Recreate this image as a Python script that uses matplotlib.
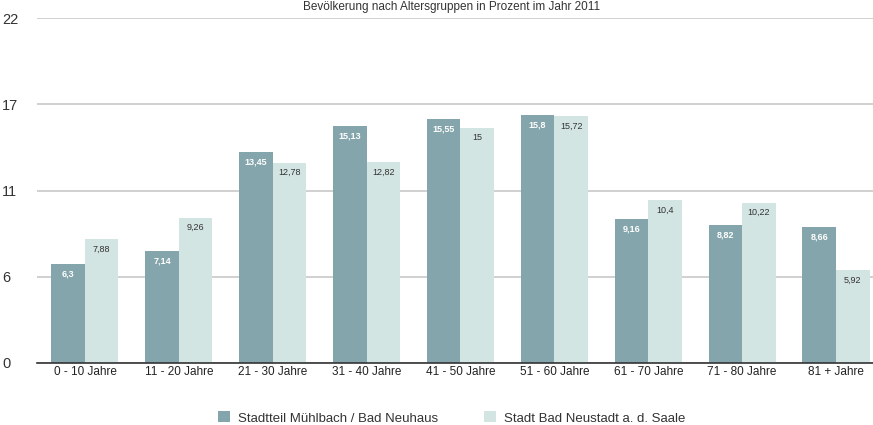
import matplotlib
matplotlib.use("Agg")
import matplotlib.pyplot as plt
import numpy as np

categories = ["0 - 10 Jahre", "11 - 20 Jahre", "21 - 30 Jahre", "31 - 40 Jahre",
              "41 - 50 Jahre", "51 - 60 Jahre", "61 - 70 Jahre", "71 - 80 Jahre",
              "81 + Jahre"]
muehlbach = [6.3, 7.14, 13.45, 15.13, 15.55, 15.8, 9.16, 8.82, 8.66]
neustadt = [7.88, 9.26, 12.78, 12.82, 15.0, 15.72, 10.4, 10.22, 5.92]
series_names = ["Stadtteil Mühlbach / Bad Neuhaus", "Stadt Bad Neustadt a. d. Saale"]
y_ticks = [0, 5.5, 11, 16.5, 22]
y_tick_labels = ["0", "6", "11", "17", "22"]
title = "Bevölkerung nach Altersgruppen in Prozent im Jahr 2011"

plt.rcParams["font.family"] = ["Liberation Sans", "DejaVu Sans"]

dark = "#84a5ab"
light = "#d3e5e3"

fig = plt.figure(figsize=(8.73, 4.25), dpi=100)
ax = fig.add_axes([37 / 873, 1 - 363 / 425, 836 / 873, 345 / 425])

x = np.arange(len(categories))
w = 0.357
b1 = ax.bar(x - w / 2, muehlbach, w, color=dark, label=series_names[0], zorder=3)
b2 = ax.bar(x + w / 2, neustadt, w, color=light, label=series_names[1], zorder=3)

def fmt(v):
    s = f"{v:.2f}".rstrip("0").rstrip(".")
    return s.replace(".", ",")

for rect, v in zip(b1, muehlbach):
    ax.text(rect.get_x() + rect.get_width() / 2, v - 0.35, fmt(v), ha="center", va="top",
            fontsize=6.5, color="white", fontweight="bold", zorder=4)
for rect, v in zip(b2, neustadt):
    ax.text(rect.get_x() + rect.get_width() / 2, v - 0.35, fmt(v), ha="center", va="top",
            fontsize=6.5, color="#333333", zorder=4)

# category centres sit 93.9 px apart, first one 48 px from the left edge
ax.set_xlim(-0.511, 8.394)
ax.set_ylim(0, 22)
ax.set_yticks(y_ticks)
ax.set_yticklabels(y_tick_labels)
ax.set_xticks(x)
ax.set_xticklabels(categories, fontsize=8.5, color="#222222")
ax.tick_params(axis="y", length=0, labelsize=10.5, labelcolor="#333333")
for lbl in ax.get_yticklabels():
    lbl.set_horizontalalignment("left")
    lbl.set_x(-30 / 836)
ax.tick_params(axis="x", length=0, pad=2)
ax.grid(axis="y", color="#c8c8c8", linewidth=1.2, zorder=0)
for s in ["top", "right", "left"]:
    ax.spines[s].set_visible(False)
ax.spines["bottom"].set_color("#333333")
ax.spines["bottom"].set_linewidth(1.2)
ax.spines["bottom"].set_zorder(5)

fig.text(452 / 873, 1 - 7 / 425, title, ha="center", va="center", fontsize=8.5, color="#333333")

fig.legend(handles=[b1, b2], loc="center", bbox_to_anchor=(452 / 873, 1 - 418 / 425),
           ncol=2, frameon=False, fontsize=9.5, handlelength=0.9, handleheight=0.9,
           columnspacing=3.5, handletextpad=0.6, labelcolor="#333333")

fig.savefig("out.png", dpi=100)
